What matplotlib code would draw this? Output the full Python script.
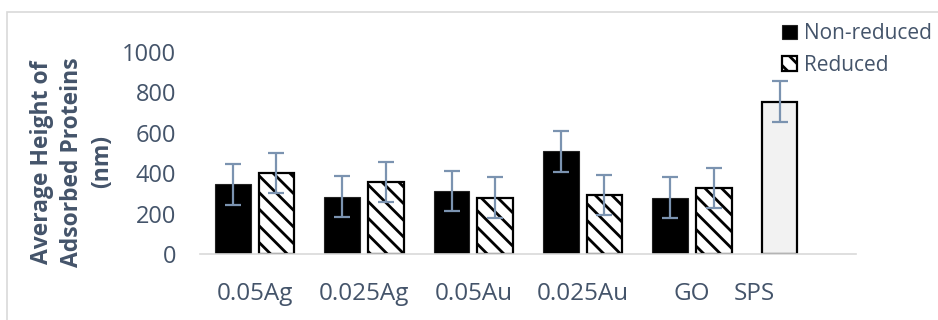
import numpy as np
import matplotlib
matplotlib.use("Agg")
import matplotlib.pyplot as plt
from matplotlib.patches import Rectangle

plt.rcParams['font.family'] = ['Open Sans', 'DejaVu Sans']
plt.rcParams['hatch.linewidth'] = 2.0
plt.rcParams['hatch.color'] = 'black'

# data
categories = ['0.05Ag', '0.025Ag', '0.05Au', '0.025Au', 'GO', 'SPS']
non_reduced = [345, 284, 312, 508, 279]
reduced = [402, 356, 279, 292, 327]
sps_value = 754
nr_err = [100, 100, 100, 100, 100]
r_err = [100, 100, 100, 100, 100]
sps_err = 100
yticks = [0, 200, 400, 600, 800, 1000]

text_col = '#44546A'
err_col = '#7B93B0'

fig = plt.figure(figsize=(9.38, 3.2), dpi=100)
ax = fig.add_axes([200 / 938, 1 - 254 / 320, 656 / 938, 202 / 320])

x = np.arange(len(categories))
w = 0.325
off = 0.199

ekw = dict(ecolor=err_col, elinewidth=1.6, capsize=6, capthick=1.6)

ax.bar(x[:5] - off, non_reduced, w, color='black', edgecolor='#222222',
       linewidth=0.8, yerr=nr_err, error_kw=ekw, label='Non-reduced', zorder=2)
ax.bar(x[:5] + off, reduced, w, color='white', edgecolor='black', hatch='\\\\',
       linewidth=1.6, yerr=r_err, error_kw=ekw, label='Reduced', zorder=2)
ax.bar(x[5] - off, sps_value, w, color='#F2F2F2', edgecolor='black',
       linewidth=1.6, yerr=sps_err, error_kw=ekw, zorder=2)

ax.set_xlim(-0.5, 5.5)
ax.set_ylim(0, 1000)
ax.set_yticks(yticks)
ax.set_yticklabels([str(v) for v in yticks])
# SPS label sits left of its category centre in the reference
tick_pos = list(x[:5]) + [x[5] - 0.43]
ax.set_xticks(tick_pos)
ax.set_xticklabels(categories)
ax.tick_params(axis='both', length=0, labelsize=17.5, colors=text_col)
ax.tick_params(axis='y', pad=17, labelsize=17)
ax.tick_params(axis='x', pad=20)

for s in ['top', 'right', 'left']:
    ax.spines[s].set_visible(False)
ax.spines['bottom'].set_color('#D9D9D9')
ax.spines['bottom'].set_linewidth(1.2)
ax.patch.set_alpha(0)

fig.text(72 / 938, 1 - 162 / 320,
         'Average Height of\nAdsorbed Proteins\n(nm)',
         rotation=90, ha='center', va='center', ma='center',
         fontsize=16.5, fontweight='bold', color=text_col, linespacing=1.36)

leg = ax.legend(loc='upper left', bbox_to_anchor=(774 / 938, 1 - 15 / 320),
                bbox_transform=fig.transFigure, frameon=False,
                fontsize=15, handlelength=0.72, handleheight=0.72,
                handletextpad=0.3, labelspacing=0.5, borderaxespad=0)
for t in leg.get_texts():
    t.set_color(text_col)

# outer chart border
fig.patches.append(Rectangle((7 / 938, -0.1), 1.2, 1 - 12 / 320 + 0.1,
                             transform=fig.transFigure, fill=False,
                             edgecolor='#D9D9D9', linewidth=1.2))

fig.savefig('out.png', dpi=100)
